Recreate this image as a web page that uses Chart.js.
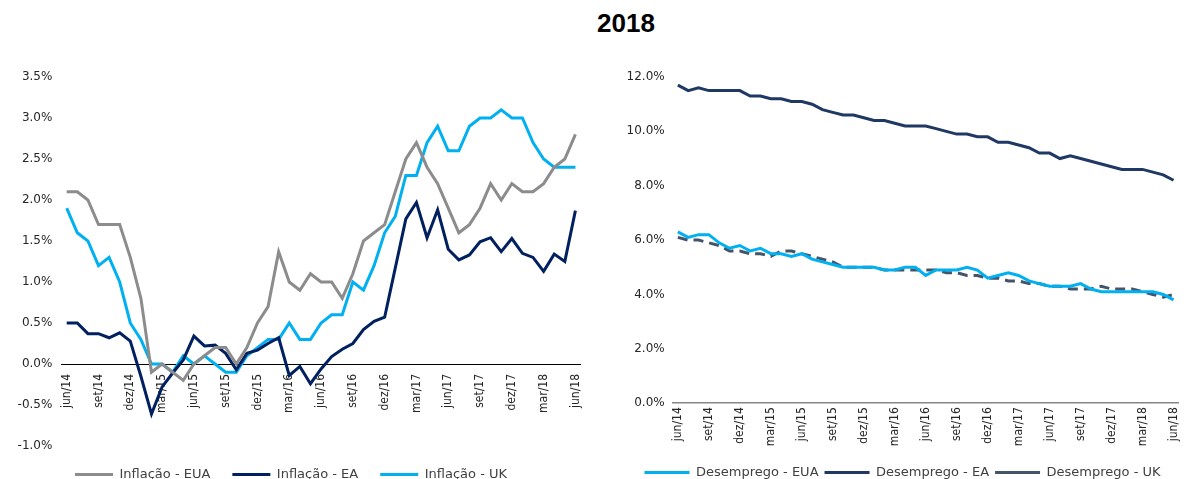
<!DOCTYPE html>
<html>
<head>
<meta charset="utf-8">
<script src="https://cdn.jsdelivr.net/npm/chart.js@4.4.0/dist/chart.umd.min.js"></script>
<style>
  html, body { margin: 0; padding: 0; background: #fff; width: 1192px; height: 479px; overflow: hidden; }
  #title { position: absolute; left: 526px; width: 200px; top: 8px; text-align: center;
           font-family: "Liberation Sans", Arial, sans-serif; font-weight: bold; font-size: 26px; line-height: 30px; color: #000; }
  .wrap { position: absolute; top: 0; height: 479px; overflow: hidden; }
  #w1 { left: 0; width: 600px; }
  #w2 { left: 617px; width: 575px; }
</style>
</head>
<body>
<div id="title">2018</div>
<div class="wrap" id="w1"><canvas id="c1" width="600" height="491"></canvas></div>
<div class="wrap" id="w2"><canvas id="c2" width="575" height="489"></canvas></div>
<script>
const months = [
  'jun/14','jul/14','ago/14','set/14','out/14','nov/14','dez/14',
  'jan/15','fev/15','mar/15','abr/15','mai/15','jun/15','jul/15','ago/15','set/15','out/15','nov/15','dez/15',
  'jan/16','fev/16','mar/16','abr/16','mai/16','jun/16','jul/16','ago/16','set/16','out/16','nov/16','dez/16',
  'jan/17','fev/17','mar/17','abr/17','mai/17','jun/17','jul/17','ago/17','set/17','out/17','nov/17','dez/17',
  'jan/18','fev/18','mar/18','abr/18','mai/18','jun/18'
];

const inflacaoEUA = [2.1,2.1,2.0,1.7,1.7,1.7,1.3,0.8,-0.1,0.0,-0.1,-0.2,0.0,0.1,0.2,0.2,0.0,0.2,0.5,0.7,1.37,1.0,0.9,1.1,1.0,1.0,0.8,1.1,1.5,1.6,1.7,2.1,2.5,2.7,2.4,2.2,1.9,1.6,1.7,1.9,2.2,2.0,2.2,2.1,2.1,2.2,2.4,2.5,2.8];
const inflacaoEA  = [0.5,0.5,0.37,0.37,0.32,0.38,0.28,-0.15,-0.61,-0.28,-0.11,0.05,0.34,0.22,0.23,0.13,-0.07,0.13,0.17,0.25,0.32,-0.14,-0.03,-0.24,-0.06,0.09,0.18,0.25,0.42,0.52,0.57,1.17,1.77,1.97,1.54,1.88,1.40,1.27,1.33,1.49,1.54,1.37,1.53,1.35,1.30,1.13,1.34,1.25,1.87];
const inflacaoUK  = [1.9,1.6,1.5,1.2,1.3,1.0,0.5,0.3,0.0,0.0,-0.1,0.1,0.0,0.1,0.0,-0.1,-0.1,0.1,0.2,0.3,0.3,0.5,0.3,0.3,0.5,0.6,0.6,1.0,0.9,1.2,1.6,1.8,2.3,2.3,2.7,2.9,2.6,2.6,2.9,3.0,3.0,3.1,3.0,3.0,2.7,2.5,2.4,2.4,2.4];

const desempregoEUA = [6.3,6.1,6.2,6.2,5.9,5.7,5.8,5.6,5.7,5.5,5.5,5.4,5.5,5.3,5.2,5.1,5.0,5.0,5.0,5.0,4.9,4.9,5.0,5.0,4.7,4.9,4.9,4.9,5.0,4.9,4.6,4.7,4.8,4.7,4.5,4.4,4.3,4.3,4.3,4.4,4.2,4.1,4.1,4.1,4.1,4.1,4.1,4.0,3.8];
const desempregoEA  = [11.7,11.5,11.6,11.5,11.5,11.5,11.5,11.3,11.3,11.2,11.2,11.1,11.1,11.0,10.8,10.7,10.6,10.6,10.5,10.4,10.4,10.3,10.2,10.2,10.2,10.1,10.0,9.9,9.9,9.8,9.8,9.6,9.6,9.5,9.4,9.2,9.2,9.0,9.1,9.0,8.9,8.8,8.7,8.6,8.6,8.6,8.5,8.4,8.2];
const desempregoUK  = [6.1,6.0,6.0,5.9,5.8,5.6,5.6,5.5,5.5,5.4,5.6,5.6,5.5,5.4,5.3,5.2,5.0,5.0,5.0,5.0,4.9,4.9,4.9,4.9,4.9,4.9,4.8,4.8,4.7,4.7,4.6,4.6,4.5,4.5,4.4,4.4,4.3,4.3,4.2,4.2,4.2,4.3,4.2,4.2,4.2,4.1,4.0,3.9,4.0];

const leftTicks = { min: -1.0, max: 3.5, step: 0.5 };
const rightTicks = { min: 0, max: 12, step: 2 };

const axisFont = { family: "'DejaVu Sans', Verdana, sans-serif", size: 12 };
const legendFont = { family: "'DejaVu Sans', Verdana, sans-serif", size: 13 };
const xFont = { family: "'Liberation Sans Narrow', 'DejaVu Sans Condensed', sans-serif", size: 12 };
const showEvery3 = function(val, idx) { return idx % 3 === 0 ? this.getLabelForValue(val) : null; };

new Chart(document.getElementById('c1'), {
  type: 'line',
  data: {
    labels: months,
    datasets: [
      { label: 'Inflação - EUA', data: inflacaoEUA, borderColor: '#8c8c8c', backgroundColor: '#8c8c8c', borderWidth: 3, pointRadius: 0, tension: 0 },
      { label: 'Inflação - EA', data: inflacaoEA, borderColor: '#002060', backgroundColor: '#002060', borderWidth: 3, pointRadius: 0, tension: 0 },
      { label: 'Inflação - UK', data: inflacaoUK, borderColor: '#00b0f0', backgroundColor: '#00b0f0', borderWidth: 3, pointRadius: 0, tension: 0 }
    ]
  },
  options: {
    responsive: false, animation: false,
    layout: { padding: { top: 77, right: 18, left: 0, bottom: 0 } },
    plugins: {
      tooltip: { enabled: false },
      legend: {
        position: 'bottom',
        labels: { usePointStyle: true, pointStyle: 'line', pointStyleWidth: 38, padding: 22,
                  color: '#404040', font: legendFont }
      }
    },
    scales: {
      x: {
        type: 'category', position: { y: 0 }, offset: true,
        grid: { display: false, drawTicks: false },
        border: { display: true, color: '#000', width: 1 },
        ticks: { autoSkip: false, maxRotation: 90, minRotation: 90, padding: 10, color: '#262626', font: xFont, callback: showEvery3 }
      },
      y: {
        min: leftTicks.min, max: leftTicks.max,
        grid: { display: false, drawTicks: false }, border: { display: false },
        afterFit: s => { s.width = 61.4; },
        ticks: { stepSize: leftTicks.step, padding: 9, color: '#262626', font: axisFont,
                 callback: v => v.toFixed(1) + '%' }
      }
    }
  }
});

new Chart(document.getElementById('c2'), {
  type: 'line',
  data: {
    labels: months,
    datasets: [
      { label: 'Desemprego - EUA', data: desempregoEUA, borderColor: '#00b0f0', backgroundColor: '#00b0f0', borderWidth: 3, pointRadius: 0, tension: 0 },
      { label: 'Desemprego - EA', data: desempregoEA, borderColor: '#1f3864', backgroundColor: '#1f3864', borderWidth: 3, pointRadius: 0, tension: 0 },
      { label: 'Desemprego - UK', data: desempregoUK, borderColor: '#44546a', backgroundColor: '#44546a', borderWidth: 3, borderDash: [10, 6], pointRadius: 0, tension: 0 }
    ]
  },
  options: {
    responsive: false, animation: false,
    layout: { padding: { top: 77, right: 4, left: 0, bottom: 0 } },
    plugins: {
      tooltip: { enabled: false },
      legend: {
        position: 'bottom',
        labels: { usePointStyle: true, pointStyle: 'line', pointStyleWidth: 45, padding: 6,
                  color: '#404040', font: legendFont }
      }
    },
    scales: {
      x: {
        type: 'category', position: 'bottom', offset: true,
        grid: { display: false, drawTicks: false },
        border: { display: true, color: '#868686', width: 1.5 },
        afterFit: s => { s.height = 56.8; },
        ticks: { autoSkip: false, maxRotation: 90, minRotation: 90, padding: 4, color: '#262626', font: xFont, callback: showEvery3 }
      },
      y: {
        min: rightTicks.min, max: rightTicks.max,
        grid: { display: false, drawTicks: false }, border: { display: false },
        afterFit: s => { s.width = 55.7; },
        ticks: { stepSize: rightTicks.step, padding: 8, color: '#262626', font: axisFont,
                 callback: v => v.toFixed(1) + '%' }
      }
    }
  }
});
</script>
</body>
</html>
